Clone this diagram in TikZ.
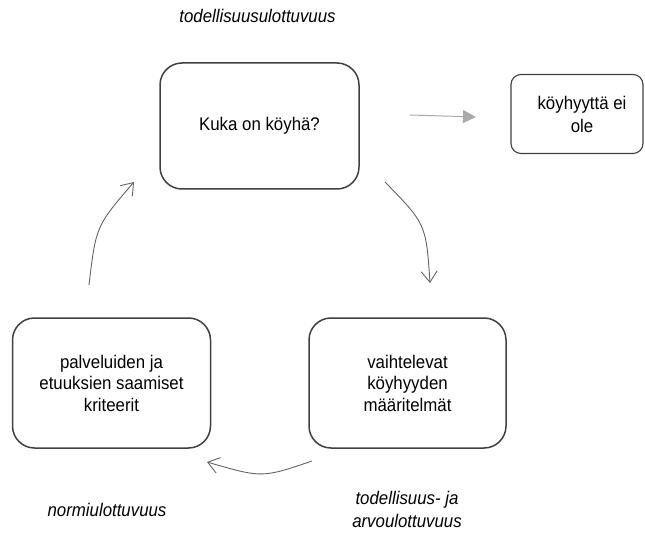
\documentclass[tikz,border=0pt]{standalone}
\usepackage{fontspec}
\setmainfont{Liberation Sans}[FakeStretch=0.92]
\usetikzlibrary{arrows.meta}
\definecolor{boxline}{RGB}{64,64,64}
\definecolor{arrline}{RGB}{100,100,100}
\definecolor{lightarr}{RGB}{170,170,170}
\begin{document}
\begin{tikzpicture}[x=1pt,y=-1pt,
  box/.style={draw=boxline,line width=1.5pt,rounded corners=22pt,align=center,
    inner sep=0pt,font=\fontsize{18.3}{21.5}\selectfont},
  smallbox/.style={box,rounded corners=10pt,line width=1.1pt,font=\fontsize{18.3}{23}\selectfont},
  lbl/.style={font=\fontsize{18.3}{23}\selectfont\itshape,align=center,inner sep=0pt},
  cyc/.style={draw=arrline,line width=0.9pt,-{Straight Barb[length=11pt,width=16pt,line width=0.9pt]}},
  grayarr/.style={draw=lightarr,line width=1pt,-{Triangle[length=13pt,width=13pt]}}]
\useasboundingbox (0,0) rectangle (645,540);
\node[box,minimum width=199pt,minimum height=126pt] (top) at (259.5,126) {Kuka on köyhä?};
\node[smallbox,minimum width=132pt,minimum height=79pt] (right) at (577,114) {\hspace*{10pt}köyhyyttä ei\\\hspace*{10pt}ole};
\node[box,minimum width=198pt,minimum height=130pt] (left) at (111.5,383) {palveluiden ja\\etuuksien saamiset\\kriteerit};
\node[box,minimum width=197pt,minimum height=130pt] (brt) at (407.5,383) {vaihtelevat\\köyhyyden\\määritelmät};
\node[lbl] (l1) at (257.5,16) {todellisuusulottuvuus};
\node[lbl] (l2) at (107,510) {normiulottuvuus};
\node[lbl] (l3) at (407,509) {todellisuus- ja\\arvoulottuvuus};
\coordinate (g1) at (410,115);
\coordinate (g2) at (476,117);
\draw[grayarr] (g1) -- (g2);
\coordinate (a1) at (385,182);
\coordinate (a2) at (430,283);
\draw[cyc] (a1) .. controls (426,224) .. (a2);
\coordinate (b1) at (312,461);
\coordinate (b2) at (207,462);
\draw[cyc] (b1) .. controls (262,478) .. (b2);
\coordinate (c1) at (89,285);
\coordinate (c2) at (134,182);
\draw[cyc] (c1) .. controls (96,226) .. (c2);
\end{tikzpicture}
\end{document}
